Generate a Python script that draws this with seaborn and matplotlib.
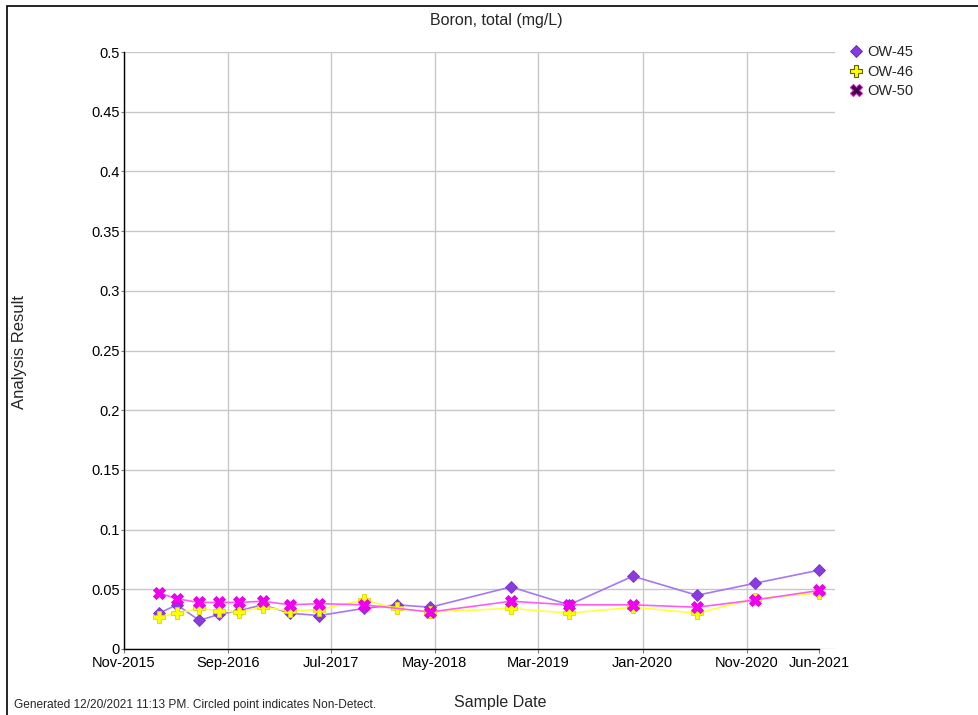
import matplotlib
matplotlib.use("Agg")
import matplotlib.pyplot as plt
import matplotlib.dates as mdates
from matplotlib.lines import Line2D
from matplotlib.patches import Rectangle
import pandas as pd
import seaborn as sns

# Sample dates and Boron results (mg/L) for each monitoring well
dates = ["2016-02-12", "2016-04-04", "2016-06-09", "2016-08-06", "2016-10-02",
         "2016-12-12", "2017-03-02", "2017-05-27", "2017-10-05", "2018-01-09",
         "2018-04-18", "2018-12-10", "2019-05-30", "2019-12-03", "2020-06-08",
         "2020-11-24", "2021-06-01"]
ow45 = [0.030, 0.037, 0.024, 0.029, 0.032, 0.037, 0.030, 0.028, 0.034, 0.037,
        0.035, 0.052, 0.037, 0.061, 0.045, 0.055, 0.066]
ow46 = [0.027, 0.030, 0.034, 0.032, 0.031, 0.035, 0.032, 0.033, 0.041, 0.034,
        0.031, 0.034, 0.030, 0.035, 0.030, 0.042, 0.047]
ow50_dates = [d for d in dates if d != "2018-01-09"]
ow50 = [0.047, 0.042, 0.039, 0.039, 0.039, 0.040, 0.037, 0.038, 0.037,
        0.031, 0.040, 0.037, 0.037, 0.035, 0.041, 0.049]

x_ticks = ["2015-11-01", "2016-09-01", "2017-07-01", "2018-05-01", "2019-03-01",
           "2020-01-01", "2020-11-01", "2021-06-01"]
x_tick_labels = ["Nov-2015", "Sep-2016", "Jul-2017", "May-2018", "Mar-2019",
                 "Jan-2020", "Nov-2020", "Jun-2021"]
y_ticks = [0, 0.05, 0.1, 0.15, 0.2, 0.25, 0.3, 0.35, 0.4, 0.45, 0.5]
y_tick_labels = ["0", "0.05", "0.1", "0.15", "0.2", "0.25", "0.3", "0.35",
                 "0.4", "0.45", "0.5"]

sns.set_theme(style="white")
plt.rcParams["font.family"] = ["Liberation Sans", "DejaVu Sans"]

fig = plt.figure(figsize=(9.79, 7.15), dpi=100)
ax = fig.add_axes([124 / 979, 1 - 649 / 715, (835 - 124) / 979, (649 - 52) / 715])

series = [
    ("OW-45", dates, ow45, dict(color="#A678F0", marker="D", markersize=6,
                                markerfacecolor="#8A3BE0", markeredgecolor="#7A30D0",
                                markeredgewidth=0.6)),
    ("OW-46", dates, ow46, dict(color="#FFFF3C", marker="P", markersize=8.5,
                                markerfacecolor="#FFFF00", markeredgecolor="#D8D800",
                                markeredgewidth=0.6)),
    ("OW-50", ow50_dates, ow50, dict(color="#FF5CF0", marker="X", markersize=9,
                                     markerfacecolor="#F000F0", markeredgecolor="#E000E0",
                                     markeredgewidth=0.6)),
]

for name, d, v, style in series:
    df = pd.DataFrame({"Sample Date": pd.to_datetime(d), "Analysis Result": v})
    sns.lineplot(data=df, x="Sample Date", y="Analysis Result", ax=ax,
                 linewidth=1.2, legend=False, **style)

ax.set_xlim(pd.Timestamp("2015-11-01"), pd.Timestamp("2021-07-18"))
ax.set_ylim(0, 0.5)
ax.set_xticks(pd.to_datetime(x_ticks))
ax.set_xticklabels(x_tick_labels)
ax.set_yticks(y_ticks)
ax.set_yticklabels(y_tick_labels)

ax.grid(True, color="#C8C8C8", linewidth=1.0)
ax.xaxis.get_gridlines()[-1].set_visible(False)
ax.set_axisbelow(True)

for side in ("top", "right"):
    ax.spines[side].set_visible(False)
for side in ("left", "bottom"):
    ax.spines[side].set_color("black")
    ax.spines[side].set_linewidth(1.0)
ax.spines["bottom"].set_bounds(mdates.date2num(pd.Timestamp("2015-11-01")),
                               mdates.date2num(pd.Timestamp("2021-06-01")))

ax.tick_params(axis="both", which="major", width=0.8, color="#808080",
               labelsize=10.5, labelcolor="black", direction="out",
               left=True, bottom=True)
ax.tick_params(axis="x", length=3, pad=2)
ax.tick_params(axis="y", length=2, pad=1)

ax.set_xlabel("")
ax.set_ylabel("")
fig.text(496 / 979, 1 - 20 / 715, "Boron, total (mg/L)", ha="center", va="center",
         fontsize=11.5)
fig.text(20 / 979, 1 - 352 / 715, "Analysis Result", ha="center", va="center",
         rotation=90, fontsize=12)
fig.text(500 / 979, 1 - 703 / 715, "Sample Date", ha="center", va="center",
         fontsize=11.5)
fig.text(14 / 979, 1 - 705 / 715,
         "Generated 12/20/2021 11:13 PM. Circled point indicates Non-Detect.",
         ha="left", va="center", fontsize=8.6)

handles = [
    Line2D([], [], linestyle="none", marker="D", markersize=6,
           markerfacecolor="#8A3BE0", markeredgecolor="#6020B0", markeredgewidth=0.6),
    Line2D([], [], linestyle="none", marker="P", markersize=8.5,
           markerfacecolor="#FFFF00", markeredgecolor="#606000", markeredgewidth=0.8),
    Line2D([], [], linestyle="none", marker="X", markersize=9,
           markerfacecolor="#400040", markeredgecolor="#F000F0", markeredgewidth=0.8),
]
fig.legend(handles, ["OW-45", "OW-46", "OW-50"], loc="upper left",
           bbox_to_anchor=(848.7 / 979, 1 - 45.5 / 715), frameon=False,
           fontsize=10.5, handlelength=1.0, handletextpad=0.25,
           labelspacing=0.36, borderpad=0, borderaxespad=0)

# outer frame of the figure
fig.patches.append(Rectangle((7 / 979, -0.1), 1.2, 1 - 6 / 715 + 0.1,
                             transform=fig.transFigure, fill=False,
                             edgecolor="black", linewidth=1.2))

fig.savefig("out.png", dpi=100)
